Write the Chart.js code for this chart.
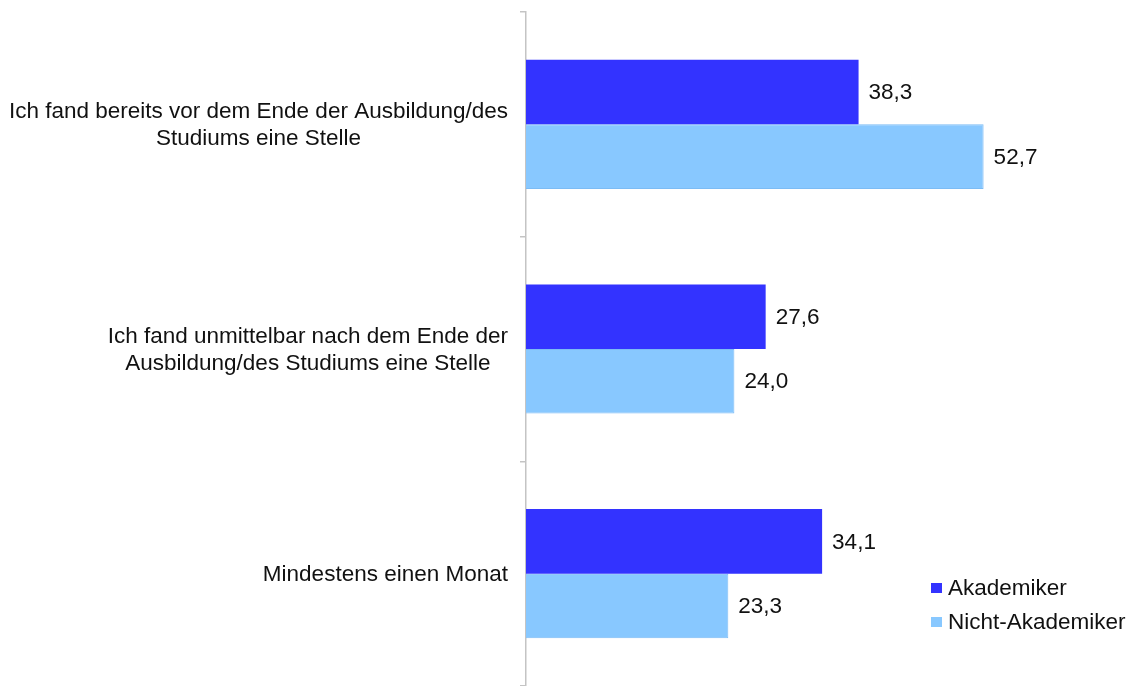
<!DOCTYPE html>
<html>
<head>
<meta charset="utf-8">
<script src="https://cdn.jsdelivr.net/npm/chart.js@4/dist/chart.umd.min.js"></script>
<style>
  html, body { margin: 0; padding: 0; background: #fff; }
  #wrap { width: 1128px; height: 686px; position: relative; }
</style>
</head>
<body>
<div id="wrap"><canvas id="myChart"></canvas></div>
<script>
var categories = [
  ['Ich fand bereits vor dem Ende der Ausbildung/des', 'Studiums eine Stelle'],
  ['Ich fand unmittelbar nach dem Ende der', 'Ausbildung/des Studiums eine Stelle'],
  ['Mindestens einen Monat']
];
var akademiker = [38.3, 27.6, 34.1];
var nichtAkademiker = [52.7, 24.0, 23.3];
var seriesNames = ['Akademiker', 'Nicht-Akademiker'];

var FONT = '"Liberation Sans", Arial, sans-serif';
var SIZE = '22.5px ';
var darkBlue = '#3333ff';
var lightBlue = '#88c8ff';

// numbers like 38,3
function fmt(v) {
  return v.toFixed(1).replace('.', ',');
}

var valueLabels = {
  id: 'valueLabels',
  afterDatasetsDraw: function(chart) {
    var ctx = chart.ctx;
    ctx.save();
    ctx.font = SIZE + FONT;
    ctx.fillStyle = '#111';
    ctx.textAlign = 'left';
    ctx.textBaseline = 'middle';
    chart.data.datasets.forEach(function(ds, i) {
      chart.getDatasetMeta(i).data.forEach(function(bar, j) {
        ctx.fillText(fmt(ds.data[j]), bar.x + 10, bar.y + 1);
      });
    });
    ctx.restore();
  }
};

var categoryLabels = {
  id: 'categoryLabels',
  afterDraw: function(chart) {
    var ctx = chart.ctx;
    var y = chart.scales.y;
    var lineH = 27;
    ctx.save();
    ctx.font = SIZE + FONT;
    ctx.fillStyle = '#111';
    ctx.textAlign = 'center';
    ctx.textBaseline = 'middle';
    categories.forEach(function(lines, i) {
      var w = 0;
      lines.forEach(function(l) { w = Math.max(w, ctx.measureText(l).width); });
      var cx = 508 - w / 2;
      var cy = y.getPixelForValue(i) + 1;
      var top = cy - (lines.length - 1) * lineH / 2;
      lines.forEach(function(l, k) {
        ctx.fillText(l, cx, top + k * lineH);
      });
    });
    ctx.restore();
  }
};

var sideLegend = {
  id: 'sideLegend',
  afterDraw: function(chart) {
    var ctx = chart.ctx;
    ctx.save();
    ctx.font = SIZE + FONT;
    ctx.textAlign = 'left';
    ctx.textBaseline = 'middle';
    chart.data.datasets.forEach(function(ds, i) {
      var cy = 588 + i * 34;
      ctx.fillStyle = ds.backgroundColor;
      ctx.fillRect(931, cy - 5, 11, 10);
      ctx.fillStyle = '#111';
      ctx.fillText(ds.label, 948, cy + 1);
    });
    ctx.restore();
  }
};

var ctx = document.getElementById('myChart');

var myChart = new Chart(ctx, {
  type: 'bar',
  data: {
    labels: categories.map(function(c) { return c.join(' '); }),
    datasets: [{
      label: seriesNames[0],
      data: akademiker,
      backgroundColor: darkBlue,
      borderWidth: 0,
      categoryPercentage: 0.575,
      barPercentage: 1.0
    },
    {
      label: seriesNames[1],
      data: nichtAkademiker,
      backgroundColor: lightBlue,
      borderColor: '#7cbcf5',
      borderWidth: 1,
      categoryPercentage: 0.575,
      barPercentage: 1.0
    }]
  },
  options: {
    indexAxis: 'y',
    responsive: true,
    maintainAspectRatio: false,
    animation: false,
    layout: { padding: { top: 12, right: 81, bottom: 0, left: 0 } },
    plugins: {
      legend: { display: false },
      tooltip: { enabled: false }
    },
    scales: {
      x: {
        display: false,
        min: 0,
        max: 60
      },
      y: {
        offset: true,
        afterFit: function(scale) { scale.width = 526; },
        ticks: { display: false },
        grid: {
          offset: true,
          drawOnChartArea: false,
          drawTicks: true,
          tickLength: 6,
          color: '#c4c4c4',
          lineWidth: 1.5
        },
        border: {
          color: '#c4c4c4',
          width: 1.5
        }
      }
    }
  },
  plugins: [valueLabels, categoryLabels, sideLegend]
});
</script>
</body>
</html>
